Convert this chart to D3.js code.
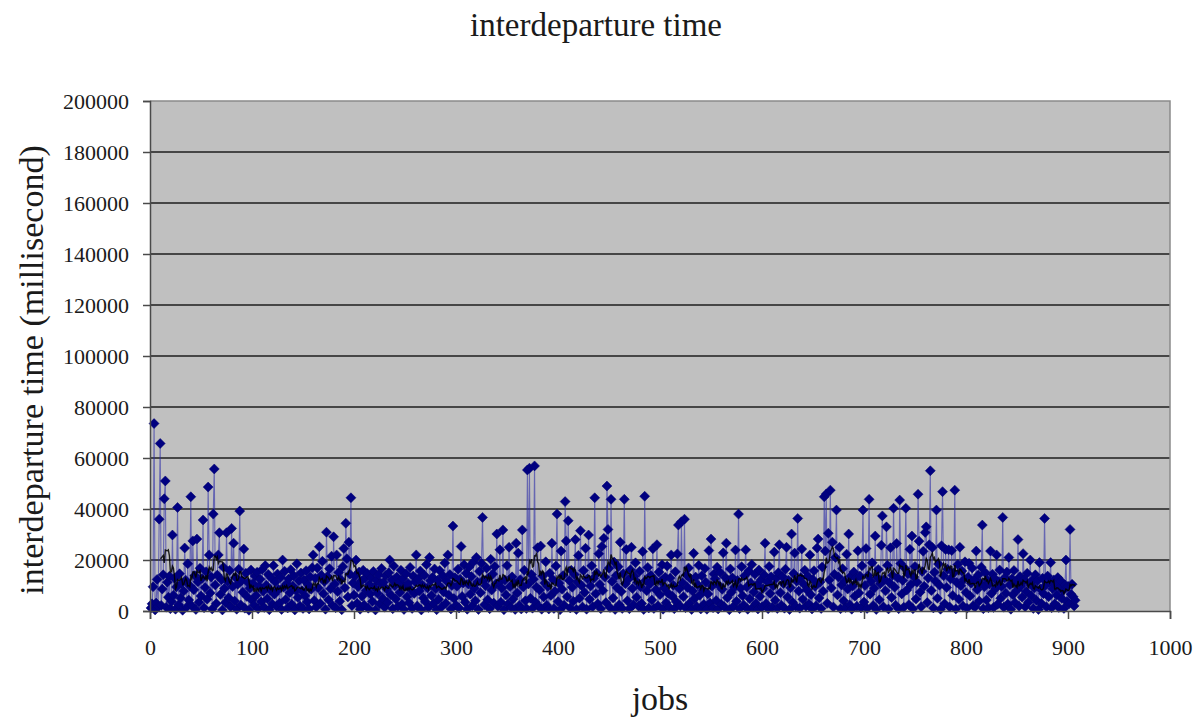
<!DOCTYPE html>
<html>
<head>
<meta charset="utf-8">
<title>interdeparture time</title>
<script src="https://cdn.jsdelivr.net/npm/d3@7"></script>
<style>
  html, body { margin: 0; padding: 0; background: #ffffff; }
  svg { display: block; }
  text { font-family: "Liberation Serif", "Times New Roman", serif; fill: #1a1a1a; }
</style>
</head>
<body>
<svg id="chart" width="1202" height="723"></svg>
<script>
// Interdeparture time of each job, in milliseconds (job 1 .. 907).
const interdepartureMs = [
  1200, 2800, 9500, 73500, 400, 3100, 12400, 1800, 36000, 65700, 2200, 8600, 14200, 44000, 51000, 1500, 11300, 5400, 13600, 900,
  3700, 29800, 6200, 12800, 700, 9400, 40600, 2500, 14600, 5100, 10900, 300, 7800, 24700, 12100, 1600, 18500, 4300, 9900, 44800,
  2100, 27500, 8300, 13900, 600, 28200, 11500, 3400, 16800, 5900, 12700, 35700, 1300, 9200, 15400, 4600, 48600, 22000, 7100, 13300,
  800, 38000, 55700, 10200, 2900, 14100, 22000, 30700, 6500, 12300, 400, 17200, 8800, 3300, 30700, 11700, 5200, 15900, 1700, 32400,
  9600, 26600, 3900, 13100, 700, 10500, 16400, 39200, 2400, 12000, 7400, 24300, 1100, 14800, 5700, 11200, 300, 8900, 16100, 4200,
  10800, 2300, 13700, 6100, 15200, 900, 9700, 12500, 3600, 16300, 7700, 1400, 17800, 10100, 4800, 14300, 500, 8200, 12900, 2700,
  17800, 6600, 11400, 1900, 14500, 8400, 3100, 13200, 600, 20000, 9300, 15600, 4500, 10700, 1200, 12600, 7200, 16200, 2600, 9800,
  13800, 400, 8100, 18500, 5300, 11900, 2000, 14900, 7900, 1000, 12200, 6000, 15800, 3500, 10300, 800, 13400, 8500, 17000, 22000,
  4100, 12800, 1600, 16900, 9000, 25200, 2900, 14000, 19500, 6800, 11600, 700, 30900, 13500, 4400, 16600, 8700, 21500, 2200, 29100,
  10600, 1300, 22000, 7600, 15100, 3800, 12400, 500, 17400, 24500, 9100, 34400, 20500, 5500, 27000, 14400, 44400, 2100, 11000, 6300,
  13600, 20000, 3000, 9500, 15300, 700, 11800, 5800, 16000, 2400, 12900, 8000, 14700, 1100, 10400, 6700, 13000, 3700, 15500, 9200,
  400, 12100, 7000, 14200, 2700, 10900, 16700, 5000, 11300, 1500, 13900, 8600, 3300, 15000, 20000, 6400, 12300, 900, 17600, 9900,
  4700, 13300, 1800, 11100, 7300, 16000, 2600, 12700, 600, 9600, 14600, 5600, 10800, 3200, 17100, 8300, 1000, 13700, 6900, 11500,
  22000, 2000, 12600, 7800, 15700, 400, 10200, 5100, 14000, 3600, 18200, 9000, 1400, 21000, 11900, 6100, 13200, 2900, 16500, 8700,
  500, 12000, 4600, 15900, 9400, 1700, 13800, 7500, 18800, 3000, 11700, 22000, 6200, 14300, 800, 10000, 33300, 4900, 13100, 2300,
  9700, 16400, 1200, 12500, 25300, 5700, 11000, 18100, 3400, 14800, 700, 10600, 17300, 6600, 13500, 2100, 19200, 8900, 4000, 21000,
  11400, 600, 15600, 7200, 18700, 36700, 12200, 2500, 9900, 16800, 4400, 13000, 900, 20300, 8200, 14500, 3100, 17500, 10500, 30200,
  1900, 11100, 24000, 3400, 8900, 31800, 500, 12200, 6300, 17800, 2700, 25000, 9600, 1400, 13400, 4700, 10900, 600, 26600, 7100,
  22700, 2200, 12300, 800, 31800, 9400, 16000, 4000, 1000, 55300, 10600, 56000, 5000, 14300, 1100, 12500, 56900, 3400, 9300, 24800,
  1900, 8200, 25500, 700, 13700, 5500, 11000, 19300, 2300, 9600, 800, 14800, 6100, 26600, 12400, 1000, 7700, 17600, 38000, 3700,
  10900, 500, 23500, 8500, 13900, 2300, 42900, 27500, 5600, 35400, 12000, 1200, 16000, 9300, 3800, 14300, 28000, 600, 11400, 21800,
  5000, 31500, 10000, 1600, 15900, 7300, 24600, 700, 12600, 29800, 4600, 9800, 17700, 1700, 12800, 44400, 6800, 14900, 2800, 22500,
  10400, 900, 25300, 8000, 28500, 13300, 3300, 49000, 32000, 16800, 1400, 43800, 11600, 5100, 19200, 600, 13900, 9100, 17400, 2500,
  27000, 7600, 1000, 14600, 43800, 10700, 24100, 4000, 12500, 900, 16200, 25000, 8800, 2500, 13600, 18900, 5400, 11200, 1900, 15600,
  9500, 2900, 23300, 600, 45000, 12000, 7900, 17100, 1200, 10600, 14000, 4300, 24400, 1000, 12200, 8300, 26000, 2100, 15300, 6400,
  11700, 18100, 700, 9000, 13200, 3200, 17600, 7000, 1500, 12900, 22000, 5800, 10100, 900, 15400, 3600, 22400, 33700, 8700, 2000,
  35000, 11100, 5600, 36000, 1300, 14100, 9200, 16900, 3000, 12700, 600, 7800, 22600, 4900, 13300, 1800, 10300, 17900, 6200, 800,
  13800, 8100, 2600, 16700, 11300, 700, 6700, 23700, 3100, 28200, 9700, 1300, 14500, 12600, 4100, 17200, 800, 10000, 15100, 2600,
  8500, 22800, 1700, 13100, 26600, 5200, 11900, 500, 16500, 7400, 13000, 1800, 9300, 23900, 3800, 12000, 38000, 900, 8900, 17400,
  6000, 2400, 13800, 24000, 9400, 700, 15700, 4800, 11000, 18200, 1500, 7500, 14400, 2900, 10200, 800, 16100, 5700, 12300, 1600,
  8800, 14200, 26600, 2900, 11500, 900, 17500, 6900, 13400, 1500, 9900, 23100, 4200, 12800, 1000, 15000, 26000, 7200, 2300, 13500,
  10800, 1100, 16400, 25000, 5500, 12100, 600, 9100, 30200, 3400, 14700, 22700, 1900, 11700, 36300, 7800, 1100, 13100, 24300, 4600,
  10500, 16000, 1900, 8300, 13600, 2700, 22000, 6400, 800, 12400, 15800, 9600, 2100, 24700, 28200, 5100, 11400, 1000, 17300, 7700,
  44800, 23500, 45900, 3000, 30500, 12200, 47400, 9000, 27000, 1600, 14400, 21000, 39600, 6300, 13300, 25000, 900, 10200, 16600, 4000,
  11800, 1400, 22300, 8600, 30200, 2500, 13600, 700, 9800, 15300, 5800, 12900, 1900, 23600, 7100, 13700, 1200, 17700, 39600, 3500,
  10000, 24500, 1000, 13900, 43800, 6600, 11600, 18900, 2200, 8900, 29400, 600, 13100, 16300, 4400, 10700, 25800, 37300, 1700, 12500,
  7900, 33000, 17900, 800, 11100, 24800, 5300, 14000, 40300, 9300, 2300, 26500, 13000, 900, 43500, 18600, 6700, 12000, 1500, 16800,
  40300, 8200, 14600, 2500, 24200, 10400, 29400, 900, 13300, 17500, 4700, 11300, 45800, 27400, 7400, 1700, 15500, 23400, 9700, 30800,
  33000, 3300, 12900, 26000, 55000, 8000, 24900, 1200, 15200, 11800, 39600, 5000, 18400, 10100, 700, 25600, 46800, 13800, 2800, 24100,
  9200, 16400, 24000, 1600, 12600, 23700, 6100, 14900, 47400, 800, 11200, 18200, 4600, 25000, 9900, 15700, 2000, 12400, 19300, 7300,
  1100, 13200, 18700, 5900, 10900, 16900, 2100, 12200, 1700, 23500, 8400, 14100, 3900, 11000, 17200, 33700, 900, 9500, 15000, 4300,
  12200, 1300, 10600, 23500, 6900, 14400, 1400, 12700, 8800, 22000, 2600, 11500, 16100, 5000, 9600, 36700, 1500, 13000, 7000, 15300,
  2700, 21000, 10300, 700, 12600, 6400, 15900, 3200, 11700, 8100, 28000, 1900, 13500, 9800, 5400, 22500, 12300, 1700, 7600, 14800,
  3300, 10800, 20000, 6000, 12100, 1000, 9000, 14200, 4100, 11900, 600, 19000, 8600, 2900, 12800, 6800, 36300, 10100, 1600, 13700,
  5600, 11400, 19000, 1300, 8700, 12200, 2800, 10000, 6300, 13100, 1400, 9300, 11800, 4900, 7900, 1000, 10200, 20000, 3700, 9700,
  2800, 32000, 6600, 10500, 5600, 2000, 4200
];

// Axis ranges and tick labels
const xDomain = [0, 1000];
const yDomain = [0, 200000];
const xTicks = [0, 100, 200, 300, 400, 500, 600, 700, 800, 900, 1000];
const yTicks = [0, 20000, 40000, 60000, 80000, 100000, 120000, 140000, 160000, 180000, 200000];

// Text
const chartTitle = "interdeparture time";
const xTitle = "jobs";
const yTitle = "interdeparture time (millisecond)";

// Moving-average trendline period
const trendPeriod = 10;

const svg = d3.select("#chart");
const plot = { left: 150, right: 1170, top: 101, bottom: 611 };

const x = d3.scaleLinear().domain(xDomain).range([plot.left, plot.right]);
const y = d3.scaleLinear().domain(yDomain).range([plot.bottom, plot.top]);

const points = interdepartureMs.map((v, i) => ({ job: i + 1, value: v }));

// Plot background
svg.append("rect")
  .attr("x", plot.left).attr("y", plot.top)
  .attr("width", plot.right - plot.left).attr("height", plot.bottom - plot.top)
  .attr("fill", "#c0c0c0");

// Horizontal gridlines
svg.append("g")
  .selectAll("line")
  .data(yTicks.filter(t => t > yDomain[0] && t < yDomain[1]))
  .join("line")
  .attr("x1", plot.left).attr("x2", plot.right)
  .attr("y1", d => y(d)).attr("y2", d => y(d))
  .attr("stroke", "#1e1e1e").attr("stroke-width", 1.6);

// Frame: top and right edges
svg.append("path")
  .attr("d", `M${plot.left},${plot.top}H${plot.right}V${plot.bottom}`)
  .attr("fill", "none").attr("stroke", "#8a8a8a").attr("stroke-width", 1.5);

// Series line
const line = d3.line().x(d => x(d.job)).y(d => y(d.value));
svg.append("path")
  .datum(points)
  .attr("d", line)
  .attr("fill", "none")
  .attr("stroke", "#2a2aa8")
  .attr("stroke-opacity", 0.6)
  .attr("stroke-width", 1.1);

// Diamond markers
const r = 5;
const diamond = `M0,${-r}L${r},0L0,${r}L${-r},0Z`;
svg.append("g")
  .selectAll("path")
  .data(points)
  .join("path")
  .attr("transform", d => `translate(${x(d.job)},${y(d.value)})`)
  .attr("d", diamond)
  .attr("fill", "#000080")
  .attr("stroke", "#00006e")
  .attr("stroke-width", 0.5);

// Moving-average trendline
const trend = points.slice(trendPeriod - 1).map((d, i) => ({
  job: d.job,
  value: d3.mean(points.slice(i, i + trendPeriod), p => p.value)
}));
svg.append("path")
  .datum(trend)
  .attr("d", line)
  .attr("fill", "none")
  .attr("stroke", "#000000")
  .attr("stroke-opacity", 0.85)
  .attr("stroke-width", 1.4);

// Axes
const yAxis = d3.axisLeft(y).tickValues(yTicks).tickFormat(d3.format("d")).tickSize(7).tickPadding(14);
const gy = svg.append("g").attr("transform", `translate(${plot.left},0)`).call(yAxis);
gy.select(".domain").attr("stroke", "#4a4a4a").attr("stroke-width", 1.5);
gy.selectAll(".tick line").attr("stroke", "#4a4a4a").attr("stroke-width", 1.5);
gy.selectAll(".tick text").attr("font-size", 22).attr("font-family", "Liberation Serif").attr("fill", "#1a1a1a");

const xAxis = d3.axisBottom(x).tickValues(xTicks).tickFormat(d3.format("d")).tickSize(8).tickPadding(20);
const gx = svg.append("g").attr("transform", `translate(0,${plot.bottom})`).call(xAxis);
gx.select(".domain").attr("stroke", "#4a4a4a").attr("stroke-width", 1.5);
gx.selectAll(".tick line").attr("stroke", "#4a4a4a").attr("stroke-width", 1.5);
gx.selectAll(".tick text").attr("font-size", 22).attr("font-family", "Liberation Serif").attr("fill", "#1a1a1a");

// Titles
svg.append("text")
  .attr("x", 596).attr("y", 36)
  .attr("text-anchor", "middle")
  .attr("font-size", 33)
  .text(chartTitle);

svg.append("text")
  .attr("x", (plot.left + plot.right) / 2).attr("y", 710)
  .attr("text-anchor", "middle")
  .attr("font-size", 34)
  .text(xTitle);

svg.append("text")
  .attr("transform", `translate(43,370) rotate(-90)`)
  .attr("text-anchor", "middle")
  .attr("font-size", 34)
  .text(yTitle);
</script>
</body>
</html>
